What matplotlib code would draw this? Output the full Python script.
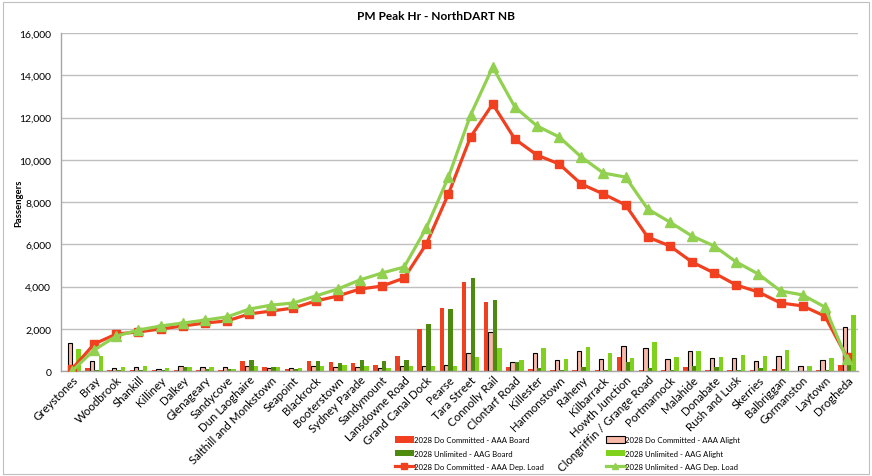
import numpy as np
import matplotlib
matplotlib.use("Agg")
import matplotlib.pyplot as plt
from matplotlib.patches import Patch, Rectangle
from matplotlib.lines import Line2D
from matplotlib.ticker import FuncFormatter

plt.rcParams['font.family'] = ['Lato', 'DejaVu Sans']

stations = ["Greystones", "Bray", "Woodbrook", "Shankill", "Killiney", "Dalkey",
            "Glenageary", "Sandycove", "Dun Laoghaire", "Salthill and Monkstown",
            "Seapoint", "Blackrock", "Booterstown", "Sydney Parade", "Sandymount",
            "Lansdowne Road", "Grand Canal Dock", "Pearse", "Tara Street",
            "Connolly Rail", "Clontarf Road", "Killester", "Harmonstown", "Raheny",
            "Kilbarrack", "Howth Junction", "Clongriffin / Grange Road", "Portmarnock",
            "Malahide", "Donabate", "Rush and Lusk", "Skerries", "Balbriggan",
            "Gormanston", "Laytown", "Drogheda"]

# 2028 Do Committed (AAA)
aaa_board = [0, 140, 60, 40, 30, 60, 60, 60, 480, 190, 90, 470, 440, 380, 280, 710,
             1990, 2980, 4210, 3270, 190, 80, 40, 30, 30, 660, 30, 30, 190, 50,
             30, 30, 100, 20, 30, 280]
aaa_alight = [1330, 470, 120, 190, 100, 230, 200, 190, 230, 140, 140, 230, 190, 190,
              140, 230, 230, 280, 850, 1850, 420, 850, 520, 950, 560, 1180, 1090,
              560, 950, 600, 600, 470, 710, 230, 520, 2080]
aaa_load = [100, 1280, 1750, 1850, 1990, 2130, 2270, 2370, 2700, 2840, 2980, 3310,
            3550, 3880, 4020, 4400, 6010, 8380, 11080, 12640, 10980, 10220, 9800,
            8850, 8380, 7860, 6340, 5920, 5160, 4640, 4070, 3740, 3220, 3080, 2600, 650]

# 2028 Unlimited (AAG)
aag_board = [0, 60, 40, 60, 50, 190, 100, 100, 520, 190, 90, 470, 380, 520, 470, 520,
             2220, 2930, 4400, 3360, 420, 150, 50, 200, 50, 420, 140, 50, 240, 190,
             50, 140, 100, 20, 50, 330]
aag_alight = [1040, 710, 190, 240, 140, 190, 170, 100, 240, 190, 160, 230, 280, 230,
              140, 230, 230, 230, 660, 1090, 520, 1090, 570, 1130, 850, 620, 1380,
              660, 950, 660, 760, 710, 1000, 240, 620, 2650]
aag_load = [0, 1000, 1650, 1940, 2130, 2270, 2410, 2560, 2930, 3120, 3220, 3550,
            3880, 4310, 4640, 4920, 6770, 9180, 12120, 14390, 12500, 11600, 11080,
            10130, 9370, 9180, 7670, 7050, 6390, 5920, 5160, 4590, 3790, 3600, 3030, 550]

red = "#F0401F"
pink = "#F8B9A8"
dgreen = "#4F8A10"
lgreen = "#7FD11B"
lline = "#92D050"

fig = plt.figure(figsize=(8.72, 4.77), dpi=100)
fig.patches.append(Rectangle((0.004, 0.004), 0.992, 0.99, transform=fig.transFigure,
                             fill=False, edgecolor="#BFBFBF", linewidth=0.8))
ax = fig.add_axes([61 / 872, 1 - 372 / 477, 797 / 872, 338 / 477])

x = np.arange(len(stations))
w = 0.2
ax.bar(x - 1.5 * w, aaa_board, w, color=red, zorder=2)
ax.bar(x - 0.5 * w, aaa_alight, w, color=pink, edgecolor="black", linewidth=0.8, zorder=2)
ax.bar(x + 0.5 * w, aag_board, w, color=dgreen, zorder=2)
ax.bar(x + 1.5 * w, aag_alight, w, color=lgreen, zorder=2)

ax.plot(x, aaa_load, color=red, linewidth=2.3, marker="s", markersize=5.5, zorder=3)
ax.plot(x, aag_load, color=lline, linewidth=2.3, marker="^", markersize=6.5, zorder=4)

ax.set_xlim(-0.5, 35.5)
ax.set_ylim(0, 16000)
ax.set_yticks(np.arange(0, 16001, 2000))
ax.yaxis.set_major_formatter(FuncFormatter(lambda v, p: f"{int(v):,}"))
ax.grid(axis="y", color="#BFBFBF", linewidth=1.0, zorder=0)
ax.set_axisbelow(True)
for s in ["top", "right"]:
    ax.spines[s].set_visible(False)
for s in ["left", "bottom"]:
    ax.spines[s].set_color("#A6A6A6")
    ax.spines[s].set_linewidth(1.0)
ax.tick_params(axis="y", length=0, labelsize=7.5, pad=7)
ax.tick_params(axis="x", length=0, labelsize=8.3, pad=2)
ax.set_xticks(x)
ax.set_xticklabels(stations, rotation=45, ha="right", rotation_mode="anchor")
ax.set_ylabel("Passengers", fontsize=6.8, fontweight="bold", labelpad=2)
ax.yaxis.set_label_coords(-0.047, 0.5)

fig.text(0.5, 1 - 17 / 477, "PM Peak Hr - NorthDART NB", ha="center", va="center",
         fontsize=8.6, fontweight="bold")

h1 = [Patch(facecolor=red),
      Patch(facecolor=dgreen),
      Line2D([0], [0], color=red, linewidth=2.3, marker="s", markersize=4)]
l1 = ["2028 Do Committed - AAA Board", "2028 Unlimited - AAG Board",
      "2028 Do Committed - AAA Dep. Load"]
h2 = [Patch(facecolor=pink, edgecolor="black", linewidth=0.8),
      Patch(facecolor=lgreen),
      Line2D([0], [0], color=lline, linewidth=2.3, marker="^", markersize=4)]
l2 = ["2028 Do Committed - AAA Alight", "2028 Unlimited - AAG Alight",
      "2028 Unlimited - AAG Dep. Load"]
for hh, ll, xx in [(h1, l1, 395), (h2, l2, 606)]:
    fig.legend(hh, ll, loc="upper left", bbox_to_anchor=(xx / 872, 1 - 437 / 477),
               frameon=False, fontsize=5.6, handlelength=2.4, handleheight=0.9,
               handletextpad=0.1, labelspacing=0.85, borderaxespad=0, borderpad=0)

fig.savefig("out.png", dpi=100)
